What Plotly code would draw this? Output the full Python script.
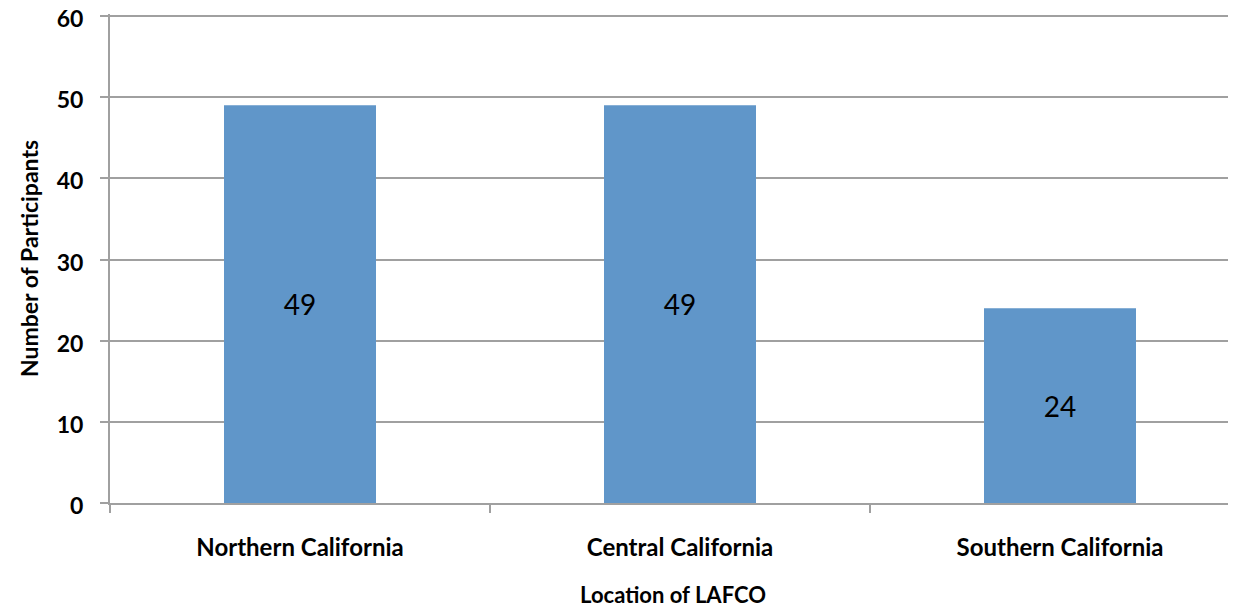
import plotly.graph_objects as go

categories = ["Northern California", "Central California", "Southern California"]
participants = [49, 49, 24]
y_ticks = [0, 10, 20, 30, 40, 50, 60]

grey = "#A0A0A0"
fnt = "Lato, Open Sans, sans-serif"
fig = go.Figure(go.Bar(
    x=categories, y=participants,
    text=[str(v) for v in participants], textposition="inside", insidetextanchor="middle",
    textfont=dict(family=fnt, size=28, color="black"),
    marker=dict(color="#6096C9", line=dict(width=0)),
    width=0.4,
))
fig.update_layout(
    width=1228, height=603,
    margin=dict(l=102, r=0, t=6, b=108),
    plot_bgcolor="white", paper_bgcolor="white",
    showlegend=False,
    font=dict(family=fnt, color="black"),
)
fig.update_xaxes(
    range=[-0.5, 2.5 - 14/380], automargin=False,
    tickson="boundaries", ticks="outside", ticklen=8, tickcolor=grey, tickwidth=2,
    showline=True, linecolor=grey, linewidth=2,
    tickfont=dict(size=24, family=fnt, weight="bold"),
    ticklabelstandoff=22,
    title=dict(text="<b>Location of LAFCO</b>", font=dict(size=22), standoff=28),
)
fig.update_yaxes(
    range=[0, 60.25], tickvals=y_ticks, automargin=False,
    ticks="outside", ticklen=8, tickcolor=grey, tickwidth=2,
    showline=True, linecolor=grey, linewidth=2,
    showgrid=True, gridcolor=grey, gridwidth=2, zeroline=False,
    tickfont=dict(size=23, family=fnt, weight="bold"),
    ticklabelstandoff=12, ticklabeloverflow="allow", ticklabelshift=3,
    title=dict(text="<b>Number of Participants</b>", font=dict(size=23), standoff=12),
)
fig.write_html("out.html")
